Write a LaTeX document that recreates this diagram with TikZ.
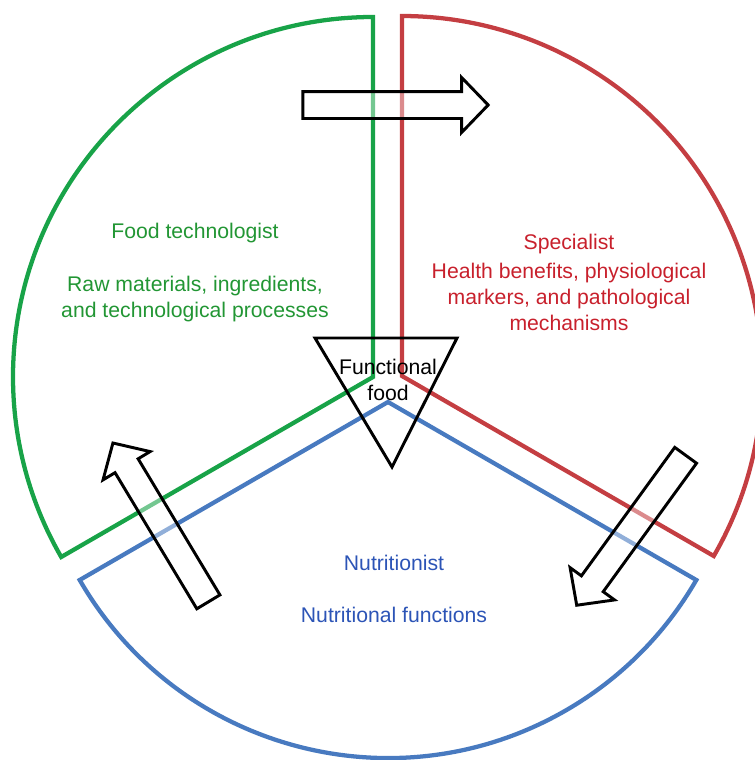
\documentclass[tikz,border=0pt]{standalone}
\usepackage{fontspec}
\setmainfont{Liberation Sans}
\usetikzlibrary{shapes.arrows,positioning}
\definecolor{gc}{RGB}{24,163,72}
\definecolor{rc}{RGB}{196,62,66}
\definecolor{bc}{RGB}{72,122,192}
\definecolor{gt}{RGB}{34,150,52}
\definecolor{rt}{RGB}{200,32,44}
\definecolor{bt}{RGB}{44,84,182}
\tikzset{sector/.style={line width=3.2pt},
 blk/.style={single arrow,draw,line width=2.2pt,fill=white,fill opacity=.4,inner sep=0pt,inner ysep=9pt,
  minimum height=139pt,minimum width=39pt,single arrow head extend=10.5pt,single arrow tip angle=92},
 tri/.style={draw,line width=2.2pt,line join=miter},
 lbl/.style={align=center,anchor=base},
 every node/.style={font=\fontsize{15.9}{19.5}\selectfont}}
\begin{document}
\begin{tikzpicture}[x=.75pt,y=.75pt]
\useasboundingbox (0,0) rectangle (755,-760);
% three sectors
\coordinate (gO) at (373,-377);\coordinate (rO) at (402,-376);\coordinate (bO) at (388,-402);
\draw[sector,gc] (gO) -- ++(90:360) arc[start angle=90,end angle=210,radius=360] -- cycle;
\draw[sector,rc] (rO) -- ++(-30:360) arc[start angle=-30,end angle=90,radius=360] -- cycle;
\draw[sector,bc] (bO) -- ++(210:356) arc[start angle=210,end angle=330,radius=356] -- cycle;
% centre triangle
\coordinate (t1) at (315,-338);\coordinate (t2) at (457,-338);\coordinate (t3) at (392,-467);
\draw[tri] (t1) -- (t2) -- (t3) -- cycle;
\node[lbl] (ff) at (388,-400) {Functional\\food};
% labels (base = last line)
\node[lbl,text=gt] (foodTech) at (195,-238) {Food technologist};
\node[lbl,text=gt] (foodTxt) at (195,-317) {Raw materials, ingredients,\\and technological processes};
\node[lbl,text=rt] (spec) at (569,-249) {Specialist};
\node[lbl,text=rt] (specTxt) at (569,-330) {Health benefits, physiological\\markers, and pathological\\mechanisms};
\node[lbl,text=bt] (nutr) at (394,-570) {Nutritionist};
\node[lbl,text=bt] (nutrTxt) at (394,-622) {Nutritional functions};
% block arrows
\node[blk] (topArrow) at (389,-105) {};
\node[blk,rotate=121] (leftArrow) at (164,-528) {};
\node[blk,rotate=234] (rightArrow) at (635,-525) {};
\end{tikzpicture}
\end{document}
